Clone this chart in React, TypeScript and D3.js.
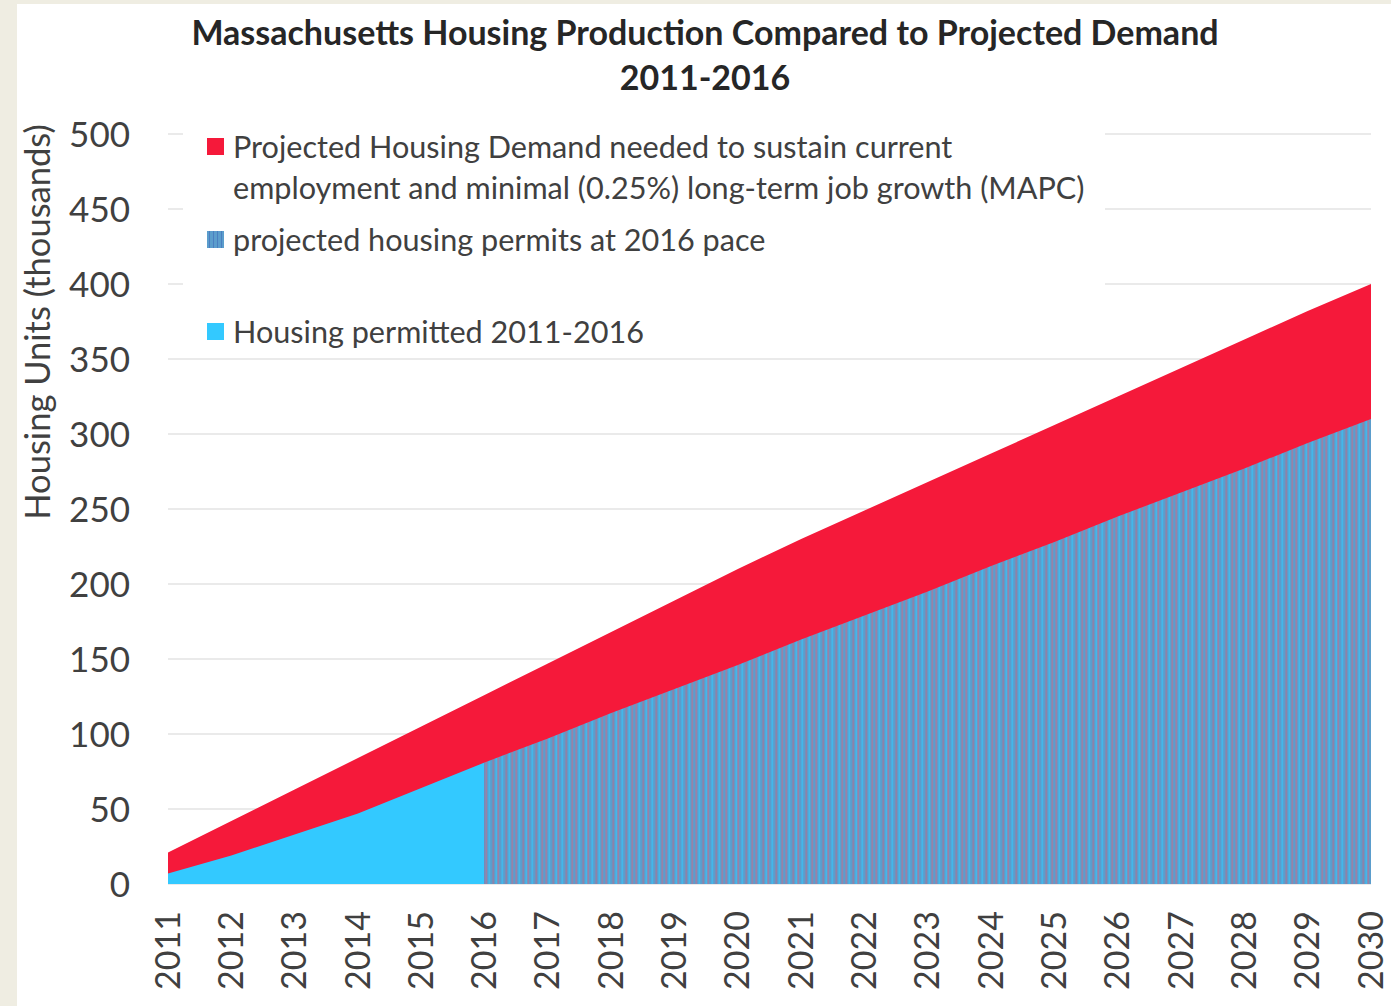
import React from 'react';
import * as d3 from 'd3';

const years = [2011, 2012, 2013, 2014, 2015, 2016, 2017, 2018, 2019, 2020, 2021, 2022, 2023, 2024, 2025, 2026, 2027, 2028, 2029, 2030];
const demand = [21, 42, 63, 84, 105, 126, 147, 168, 189, 210, 230, 249, 268, 287, 306, 325, 344, 363, 382, 400];
const permittedYears = [2011, 2012, 2013, 2014, 2015, 2016];
const permitted = [7, 19, 33, 47, 64, 81];
const projectedYears = [2016, 2017, 2018, 2019, 2020, 2021, 2022, 2023, 2024, 2025, 2026, 2027, 2028, 2029, 2030];
const projected = [81, 97, 114, 130, 146, 163, 179, 195, 212, 228, 245, 261, 277, 294, 310];
const yTicks = [0, 50, 100, 150, 200, 250, 300, 350, 400, 450, 500];

const titleLines = ['Massachusetts Housing Production Compared to Projected Demand', '2011-2016'];
const yAxisTitle = 'Housing Units (thousands)';
const legendItems = [
  { lines: ['Projected Housing Demand needed to sustain current', 'employment and minimal (0.25%) long-term job growth (MAPC)'], key: 'demand' },
  { lines: ['projected housing permits at 2016 pace'], key: 'projected' },
  { lines: ['Housing permitted 2011-2016'], key: 'permitted' },
];

const RED = '#f5193a';
const CYAN = '#33c9ff';
const BLUE = '#5b9dcc';
const FONT = 'Lato, "Open Sans", sans-serif';
const TEXT = '#404040';

const stripes = [
  { x: 1, c: '#c0708f' }, { x: 4, c: CYAN }, { x: 8, c: '#b07090' }, { x: 11, c: CYAN },
  { x: 13, c: '#c0708f' }, { x: 17, c: CYAN }, { x: 21, c: '#b07090' }, { x: 24, c: CYAN },
  { x: 27, c: '#c0708f' },
];

export default function App() {
  const W = 1391, H = 1006;
  const x = d3.scaleLinear().domain([2011, 2030]).range([168, 1371]);
  const y = d3.scaleLinear().domain([0, 500]).range([884, 134]);

  const area = d3.area<[number, number]>().x(d => x(d[0])).y0(y(0)).y1(d => y(d[1]));
  const demandPath = area(years.map((yr, i) => [yr, demand[i]]))!;
  const permittedPath = area(permittedYears.map((yr, i) => [yr, permitted[i]]))!;
  const projectedPath = area(projectedYears.map((yr, i) => [yr, projected[i]]))!;

  const legendRowY = [147, 240, 332];
  const legendColor: Record<string, string> = { demand: RED, projected: 'url(#stripes)', permitted: CYAN };

  return (
    <svg width={W} height={H} style={{ position: 'absolute', left: 0, top: 0, display: 'block' }}>
      <defs>
        <pattern id="stripes" patternUnits="userSpaceOnUse" width={30} height={10} x={x(2016)}>
          <rect width={30} height={10} fill={BLUE} />
          {stripes.map((s, i) => (
            <rect key={i} x={s.x} y={0} width={1.2} height={10} fill={s.c} opacity={0.9} />
          ))}
        </pattern>
        <pattern id="stripesLegend" patternUnits="userSpaceOnUse" width={4} height={10}>
          <rect width={4} height={10} fill={BLUE} />
          <rect x={1} width={1} height={10} fill="#4a7fc0" />
        </pattern>
      </defs>
      <rect width={W} height={H} fill="#efede2" />
      <rect x={17} y={4} width={W - 17} height={H - 4} fill="#ffffff" />

      {/* gridlines */}
      {yTicks.map(t => (
        <line key={t} x1={x(2011)} x2={x(2030)} y1={y(t)} y2={y(t)} stroke="#e3e3e3" strokeWidth={1.5} />
      ))}

      {/* areas */}
      <path d={demandPath} fill={RED} />
      <path d={permittedPath} fill={CYAN} />
      <path d={projectedPath} fill="url(#stripes)" />

      {/* y tick labels */}
      {yTicks.map(t => (
        <text key={t} x={130} y={y(t)} dy="0.36em" textAnchor="end" fontFamily={FONT} fontSize={35} fill={TEXT}>
          {t}
        </text>
      ))}

      {/* x tick labels */}
      {years.map(yr => (
        <text key={yr} transform={`translate(${x(yr)},${911}) rotate(-90)`} dy="0.34em" textAnchor="end" fontFamily={FONT} fontSize={34} fill={TEXT}>
          {yr}
        </text>
      ))}

      {/* y axis title */}
      <text transform={`translate(38,${322}) rotate(-90)`} dy="0.36em" textAnchor="middle" fontFamily={FONT} fontSize={34.5} fill={TEXT}>
        {yAxisTitle}
      </text>

      {/* title */}
      {titleLines.map((l, i) => (
        <text key={i} x={705} y={45 + i * 45} textAnchor="middle" fontFamily={FONT} fontWeight={700} fontSize={34} fill="#262626">
          {l}
        </text>
      ))}

      {/* legend */}
      <rect x={183} y={120} width={922} height={228} fill="#ffffff" />
      {legendItems.map((item, i) => (
        <g key={item.key}>
          <rect x={207} y={legendRowY[i] - 9} width={17} height={17} fill={item.key === 'projected' ? 'url(#stripesLegend)' : legendColor[item.key]} />
          {item.lines.map((l, j) => (
            <text key={j} x={233} y={legendRowY[i] + j * 41} dy="0.36em" fontFamily={FONT} fontSize={30.6} fill={TEXT}>
              {l}
            </text>
          ))}
        </g>
      ))}
    </svg>
  );
}
